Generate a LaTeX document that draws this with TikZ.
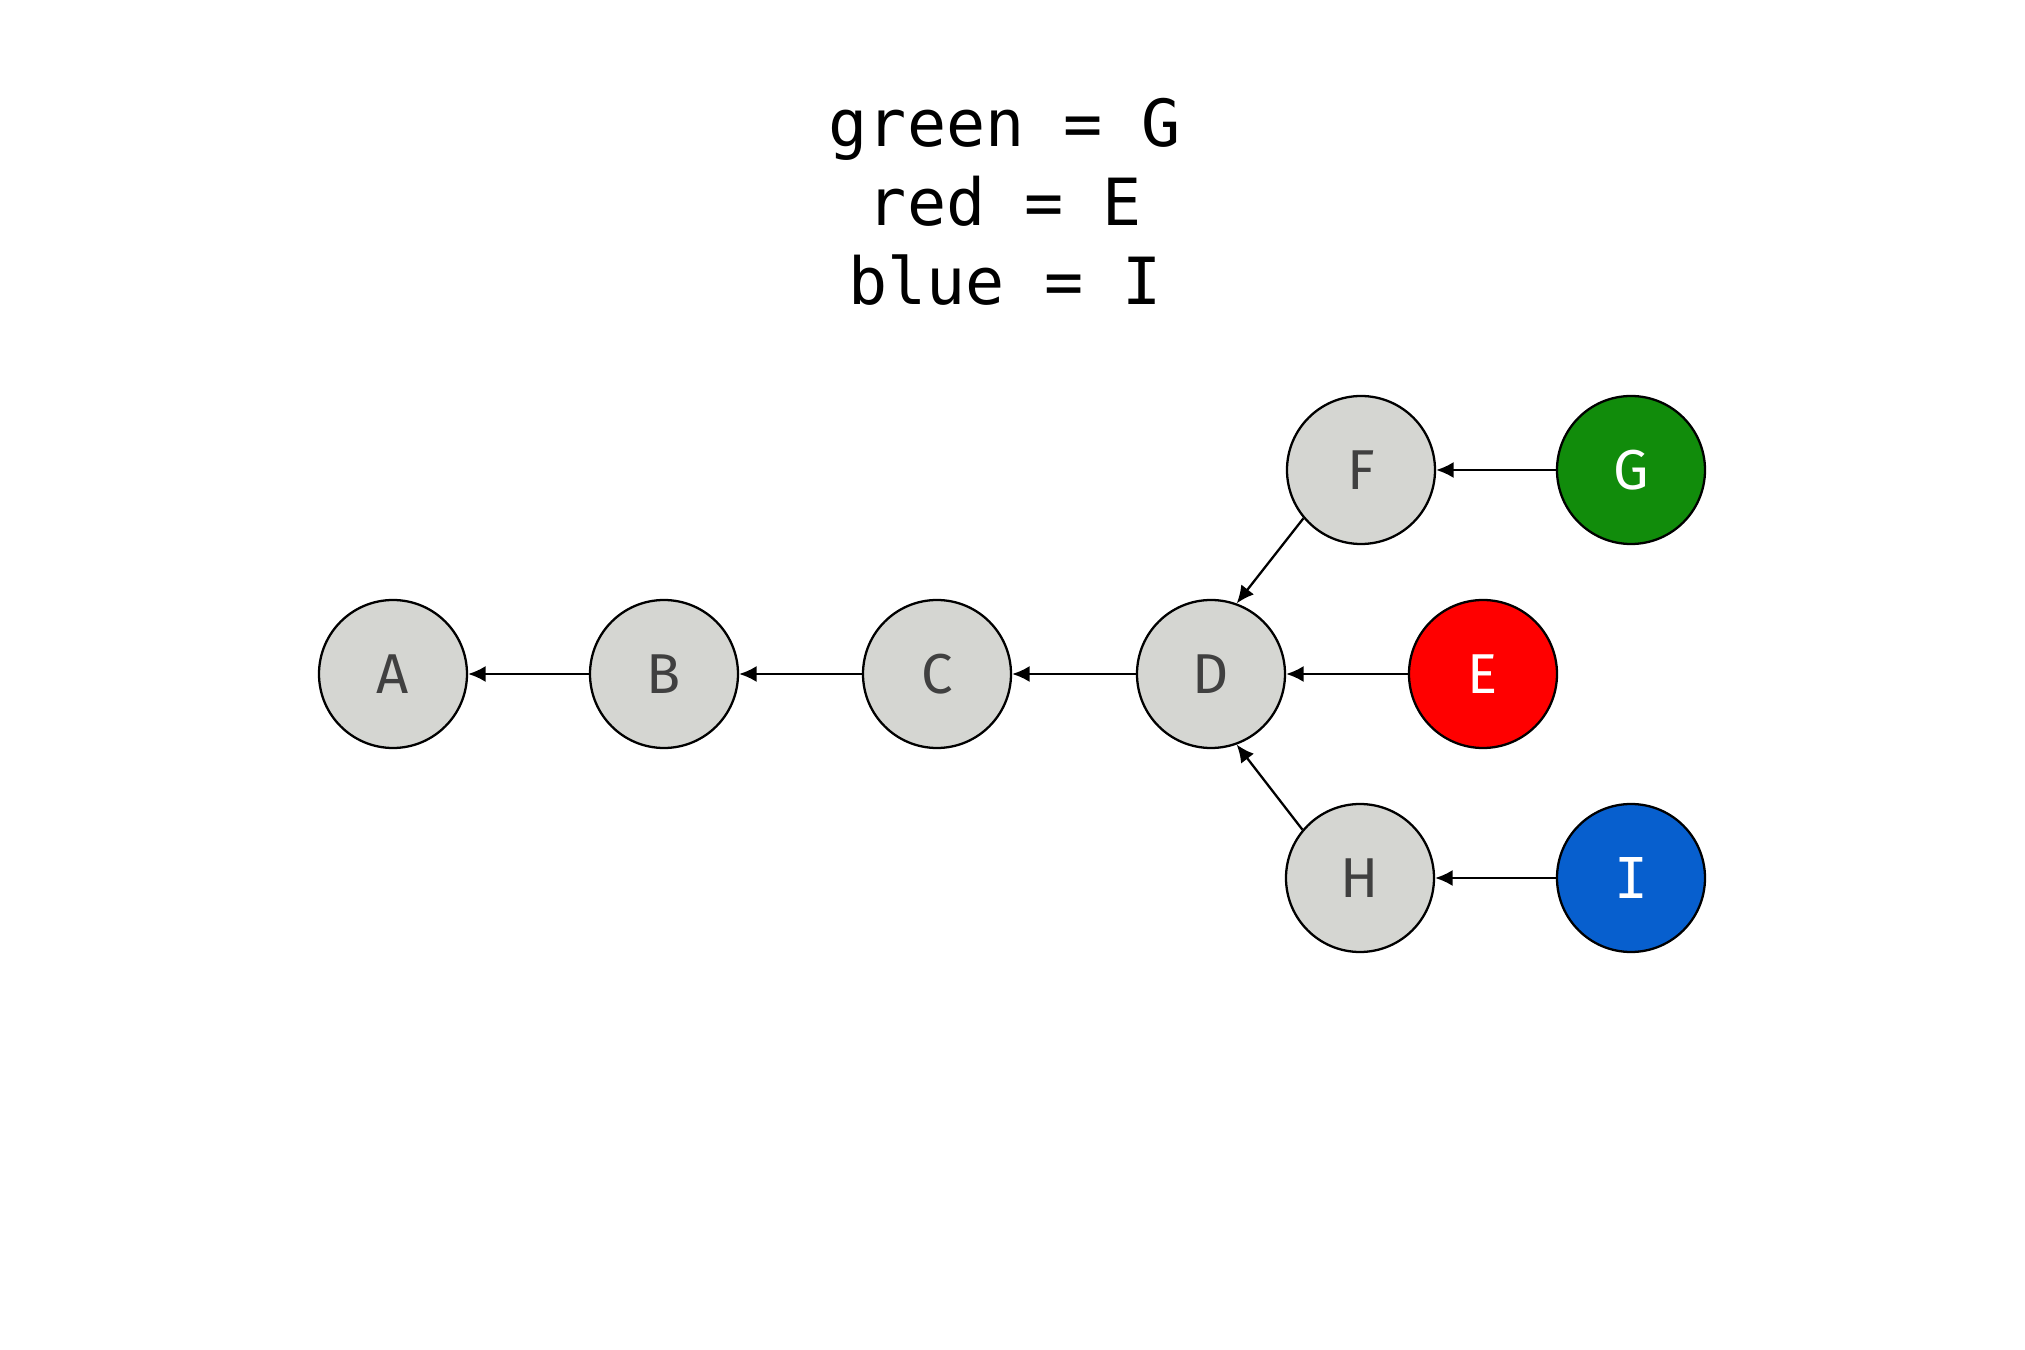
\documentclass[tikz,border=0pt]{standalone}
\usepackage{fontspec}
\setmainfont{Fira Sans}
\newfontfamily\titlefont{DejaVu Sans Mono}
\usepackage{tikz}
\usetikzlibrary{arrows.meta, positioning}

\definecolor{commitgray}{HTML}{D5D6D2}
\definecolor{commitgreen}{HTML}{118C0B}
\definecolor{commitred}{HTML}{FF0000}
\definecolor{commitblue}{HTML}{075FCE}
\definecolor{labelgray}{HTML}{404040}

\begin{document}
\begin{tikzpicture}[
    commit/.style={circle, draw=black, line width=0.65pt, minimum size=1.48cm, inner sep=0pt,
        fill=commitgray, text=labelgray, font=\fontsize{16}{18}\selectfont},
    tip/.style={commit, text=white},
    parent/.style={-{Latex[length=5pt, width=4.6pt]}, line width=0.65pt}
]
\useasboundingbox (0,0) rectangle (20.25,13.5);
% Legend
\node[align=center, font=\titlefont\fontsize{18.5}{22.5}\selectfont] (legend) at (10.05,11.48)
    {green = G\\ red = E\\ blue = I};
% Main line
\node[commit] (A) at (3.93,6.76) {A};
\node[commit] (B) at (6.64,6.76) {B};
\node[commit] (C) at (9.37,6.76) {C};
\node[commit] (D) at (12.11,6.76) {D};
% Branches
\node[commit] (F) at (13.61,8.80) {F};
\node[commit] (H) at (13.60,4.72) {H};
\node[tip, fill=commitgreen] (G) at (16.31,8.80) {G};
\node[tip, fill=commitred] (E) at (14.83,6.76) {E};
\node[tip, fill=commitblue] (I) at (16.31,4.72) {\titlefont I};
% Parent links
\draw[parent] (B) -- (A);
\draw[parent] (C) -- (B);
\draw[parent] (D) -- (C);
\draw[parent] (E) -- (D);
\draw[parent] (F.220) -- (D.70);
\draw[parent] (H.140) -- (D.290);
\draw[parent] (G) -- (F);
\draw[parent] (I) -- (H);
\end{tikzpicture}
\end{document}
